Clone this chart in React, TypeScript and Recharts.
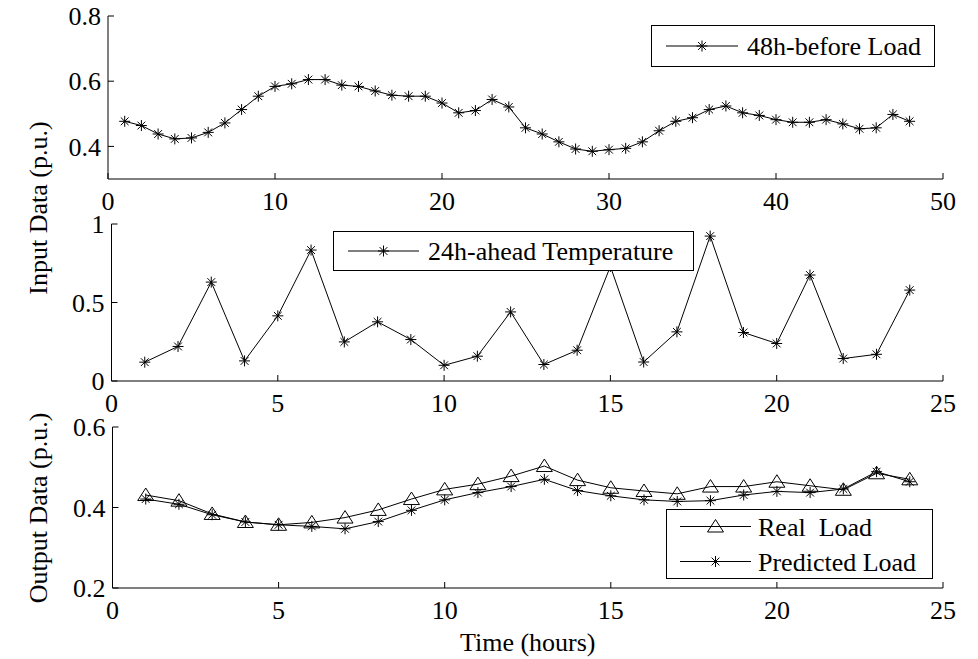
import React from 'react'
import { LineChart, Line, XAxis, YAxis, Legend, Label } from 'recharts'

// hours on the x axis
const hoursA = [1, 2, 3, 4, 5, 6, 7, 8, 9, 10, 11, 12, 13, 14, 15, 16, 17, 18, 19, 20, 21, 22, 23, 24,
  25, 26, 27, 28, 29, 30, 31, 32, 33, 34, 35, 36, 37, 38, 39, 40, 41, 42, 43, 44, 45, 46, 47, 48]
const hoursB = [1, 2, 3, 4, 5, 6, 7, 8, 9, 10, 11, 12, 13, 14, 15, 16, 17, 18, 19, 20, 21, 22, 23, 24]

// input / output data (p.u.)
const load48hBefore = [0.477, 0.464, 0.438, 0.423, 0.426, 0.443, 0.472, 0.513, 0.554, 0.584,
  0.592, 0.605, 0.605, 0.588, 0.584, 0.570, 0.557, 0.554, 0.554, 0.533,
  0.503, 0.510, 0.544, 0.521, 0.457, 0.438, 0.414, 0.392, 0.385, 0.390,
  0.394, 0.414, 0.448, 0.477, 0.488, 0.513, 0.524, 0.503, 0.495, 0.482,
  0.474, 0.474, 0.482, 0.469, 0.454, 0.457, 0.498, 0.477]
const temp24hAhead = [0.12, 0.22, 0.63, 0.128, 0.415, 0.834, 0.249, 0.377, 0.264, 0.10,
  0.158, 0.44, 0.105, 0.196, 0.73, 0.121, 0.313, 0.923, 0.309, 0.239,
  0.675, 0.143, 0.17, 0.579]
const realLoad = [0.431, 0.417, 0.384, 0.364, 0.357, 0.363, 0.375, 0.394, 0.421, 0.445,
  0.458, 0.478, 0.503, 0.468, 0.449, 0.441, 0.434, 0.452, 0.452, 0.464,
  0.454, 0.444, 0.485, 0.470]
const predictedLoad = [0.421, 0.408, 0.382, 0.364, 0.357, 0.353, 0.347, 0.365, 0.393, 0.419,
  0.437, 0.452, 0.470, 0.442, 0.429, 0.419, 0.415, 0.417, 0.431, 0.440,
  0.437, 0.446, 0.489, 0.464]

// tick labels
const xTicksA = [0, 10, 20, 30, 40, 50]
const xTicksB = [0, 5, 10, 15, 20, 25]
const yTicksTop = [0.4, 0.6, 0.8]
const yTicksMid = [0, 0.5, 1]
const yTicksBot = [0.2, 0.4, 0.6]

const FONT = '"Liberation Serif", "Times New Roman", serif'
const tickStyle = { fontSize: 26, fill: '#000', fontFamily: FONT }

const topData = hoursA.map((x, i) => ({ x, load: load48hBefore[i] }))
const midData = hoursB.map((x, i) => ({ x, temp: temp24hAhead[i] }))
const botData = hoursB.map((x, i) => ({ x, real: realLoad[i], pred: predictedLoad[i] }))

const Star = ({ cx, cy, r = 5.5 }: { cx: number; cy: number; r?: number }) => {
  const d = r * 0.7071
  return (
    <g stroke="#000" strokeWidth={1}>
      <line x1={cx - r} y1={cy} x2={cx + r} y2={cy} />
      <line x1={cx} y1={cy - r} x2={cx} y2={cy + r} />
      <line x1={cx - d} y1={cy - d} x2={cx + d} y2={cy + d} />
      <line x1={cx - d} y1={cy + d} x2={cx + d} y2={cy - d} />
    </g>
  )
}

const Triangle = ({ cx, cy }: { cx: number; cy: number }) => (
  <polygon
    points={`${cx},${cy - 7} ${cx - 8},${cy + 5.5} ${cx + 8},${cy + 5.5}`}
    fill="none"
    stroke="#000"
    strokeWidth={1}
  />
)

const starDot = (p: any) => <Star key={`s${p.index}`} cx={p.cx} cy={p.cy} />
const triDot = (p: any) => <Triangle key={`t${p.index}`} cx={p.cx} cy={p.cy} />

// box axes with inward ticks on all four sides
function frameAxes(xDomain: number[], xTicks: number[], yDomain: number[], yTicks: number[], xHeight = 30, xLabel?: string) {
  return [
    <XAxis key="xb" xAxisId="b" type="number" dataKey="x" domain={xDomain} ticks={xTicks} interval={0}
      allowDataOverflow height={xHeight} tickSize={-6} tickMargin={19} stroke="#000" tick={tickStyle}>
      {xLabel && <Label value={xLabel} position="insideBottom" offset={1} style={{ fontSize: 26, fill: '#000', fontFamily: FONT }} />}
    </XAxis>,
    <XAxis key="xt" xAxisId="t" orientation="top" type="number" dataKey="x" domain={xDomain} ticks={xTicks}
      interval={0} allowDataOverflow height={0} tickSize={-6} stroke="#000" tick={false} />,
    <YAxis key="yl" yAxisId="l" type="number" domain={yDomain} ticks={yTicks} interval={0}
      allowDataOverflow width={60} tickSize={-6} tickMargin={13} stroke="#000" tick={tickStyle} />,
    <YAxis key="yr" yAxisId="r" orientation="right" type="number" domain={yDomain} ticks={yTicks}
      interval={0} allowDataOverflow width={0} tickSize={-6} stroke="#000" tick={false} />,
  ]
}

type LegendRow = { label: string; marker: 'star' | 'tri' }

function LegendBox({ w, h, rows, lineFrom, lineTo, textX }: { w: number; h: number; rows: LegendRow[]; lineFrom: number; lineTo: number; textX: number }) {
  const rowH = h / rows.length
  const mid = (lineFrom + lineTo) / 2
  return (
    <div style={{ width: w, height: h, border: '1px solid #000', background: '#fff', boxSizing: 'border-box' }}>
      <svg width={w - 2} height={h - 2} style={{ display: 'block' }}>
        {rows.map((r, i) => {
          const cy = rowH * i + rowH / 2 - 1
          return (
            <g key={r.label}>
              <line x1={lineFrom} y1={cy} x2={lineTo} y2={cy} stroke="#000" strokeWidth={1} />
              {r.marker === 'star' ? <Star cx={mid} cy={cy} /> : <Triangle cx={mid} cy={cy} />}
              <text x={textX} y={cy + 9} fontSize={26} fontFamily={FONT} fill="#000" style={{ whiteSpace: 'pre' }}>
                {r.label}
              </text>
            </g>
          )
        })}
      </svg>
    </div>
  )
}

const W = 978

export default function App() {
  return (
    <div style={{ position: 'absolute', left: 0, top: 0, width: W, height: 659, background: '#fff', fontFamily: FONT }}>
      {/* 48h-before load */}
      <div style={{ position: 'absolute', left: 0, top: 0 }}>
        <LineChart width={W} height={225} data={topData} margin={{ top: 16, right: W - 943, bottom: 225 - 179 - 30, left: 108 - 60 }}>
          {frameAxes([0, 50], xTicksA, [0.3, 0.8], yTicksTop)}
          <Legend layout="horizontal" verticalAlign="middle" align="center"
            wrapperStyle={{ left: 651, top: 25, width: 284, height: 42 }}
            content={() => <LegendBox w={284} h={42} lineFrom={14} lineTo={86} textX={95}
              rows={[{ label: '48h-before Load', marker: 'star' }]} />} />
          <Line xAxisId="b" yAxisId="l" type="linear" dataKey="load" stroke="#000" strokeWidth={1}
            dot={starDot} activeDot={false} isAnimationActive={false} />
        </LineChart>
      </div>

      {/* 24h-ahead temperature */}
      <div style={{ position: 'absolute', left: 0, top: 210 }}>
        <LineChart width={W} height={220} data={midData} margin={{ top: 224 - 210, right: W - 943, bottom: 430 - 381 - 30, left: 111.5 - 60 }}>
          {frameAxes([0, 25], xTicksB, [0, 1], yTicksMid)}
          <Legend layout="horizontal" verticalAlign="middle" align="center"
            wrapperStyle={{ left: 333, top: 21, width: 361, height: 40 }}
            content={() => <LegendBox w={361} h={40} lineFrom={14} lineTo={85} textX={94}
              rows={[{ label: '24h-ahead Temperature', marker: 'star' }]} />} />
          <Line xAxisId="b" yAxisId="l" type="linear" dataKey="temp" stroke="#000" strokeWidth={1}
            dot={starDot} activeDot={false} isAnimationActive={false} />
        </LineChart>
      </div>

      {/* real vs predicted output */}
      <div style={{ position: 'absolute', left: 0, top: 410 }}>
        <LineChart width={W} height={249} data={botData} margin={{ top: 427 - 410, right: W - 943, bottom: 659 - 588 - 64, left: 112.5 - 60 }}>
          {frameAxes([0, 25], xTicksB, [0.2, 0.6], yTicksBot, 64, 'Time (hours)')}
          <Legend layout="horizontal" verticalAlign="middle" align="center"
            wrapperStyle={{ left: 666, top: 99, width: 267, height: 70 }}
            content={() => <LegendBox w={267} h={70} lineFrom={13} lineTo={84} textX={91}
              rows={[{ label: 'Real\u00a0 Load', marker: 'tri' }, { label: 'Predicted Load', marker: 'star' }]} />} />
          <Line xAxisId="b" yAxisId="l" type="linear" dataKey="real" stroke="#000" strokeWidth={1}
            dot={triDot} activeDot={false} isAnimationActive={false} />
          <Line xAxisId="b" yAxisId="l" type="linear" dataKey="pred" stroke="#000" strokeWidth={1}
            dot={starDot} activeDot={false} isAnimationActive={false} />
        </LineChart>
      </div>

      <div style={{ position: 'absolute', left: 39, top: 208, transform: 'translate(-50%, -50%) rotate(-90deg)', whiteSpace: 'nowrap', fontSize: 26, lineHeight: 1 }}>
        Input Data (p.u.)
      </div>
      <div style={{ position: 'absolute', left: 39, top: 508, transform: 'translate(-50%, -50%) rotate(-90deg)', whiteSpace: 'nowrap', fontSize: 26, lineHeight: 1 }}>
        Output Data (p.u.)
      </div>
    </div>
  )
}
